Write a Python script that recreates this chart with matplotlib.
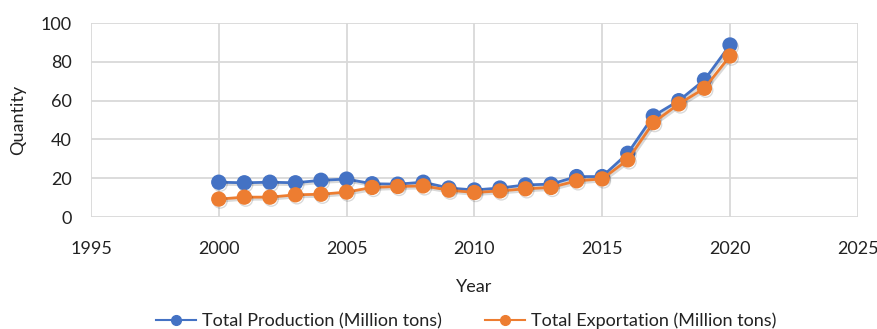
import numpy as np
import matplotlib.pyplot as plt
import matplotlib.patheffects as pe
from matplotlib.lines import Line2D

plt.rcParams['font.family'] = ['Lato', 'DejaVu Sans']

years = list(range(2000, 2021))
production = [18.0, 17.7, 18.0, 17.7, 19.0, 19.6, 17.2, 17.0, 18.0, 15.0, 14.0,
              15.0, 16.6, 17.0, 20.9, 20.9, 32.9, 52.1, 60.0, 70.7, 88.7]
exportation = [9.3, 10.3, 10.3, 11.5, 11.8, 12.9, 15.3, 15.8, 16.1, 13.9, 12.7,
               13.5, 14.6, 15.3, 18.7, 19.7, 29.5, 48.7, 58.3, 66.4, 83.0]
x_ticks = [1995, 2000, 2005, 2010, 2015, 2020, 2025]
y_ticks = [0, 20, 40, 60, 80, 100]
labels = ['Total Production (Million tons)', 'Total Exportation (Million tons)']
colors = ['#4472C4', '#ED7D31']

fig = plt.figure(figsize=(8.78, 3.29), dpi=100)
ax = fig.add_axes([0.1036, 0.340, 0.8734, 0.590])

shadow = [pe.SimpleLineShadow(offset=(1, -1.5), alpha=0.15), pe.Normal()]
ax.plot(years, production, color=colors[0], lw=2, marker='o', ms=10,
        path_effects=shadow, zorder=3)
ax.plot(years, exportation, color=colors[1], lw=2, marker='o', ms=10,
        path_effects=shadow, zorder=4)

ax.set_xlim(1995, 2025)
ax.set_ylim(0, 100)
ax.set_xticks(x_ticks)
ax.set_yticks(y_ticks)
ax.grid(True, color='#D9D9D9', lw=1.3)
ax.set_axisbelow(True)
for s in ax.spines.values():
    s.set_visible(False)
ax.tick_params(length=0, labelsize=13, colors='#222222', pad=17)
ax.tick_params(axis='y', pad=14)
ax.set_xlabel('Year', fontsize=13, color='#222222', labelpad=16)
ax.set_ylabel('Quantity', fontsize=13, color='#222222', labelpad=10)

handles = [Line2D([], [], color=c, lw=1.5, marker='o', ms=7) for c in colors]
fig.legend(handles, labels, loc='lower center', bbox_to_anchor=(0.531, -0.05), ncol=2,
           frameon=False, fontsize=13, handlelength=2.2, handletextpad=0.35,
           columnspacing=2.4, labelcolor='#222222')

plt.savefig('out.png')
